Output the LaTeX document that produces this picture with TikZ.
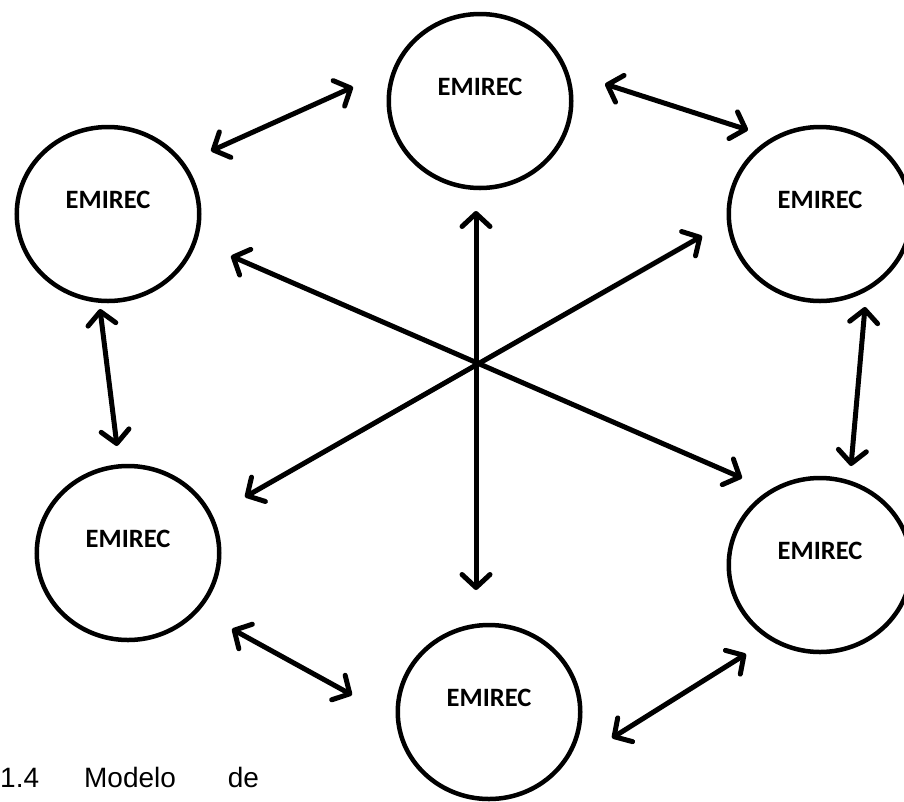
\documentclass[tikz,border=0pt]{standalone}
\usepackage{fontspec}
\setmainfont{Liberation Sans}
\newfontfamily\emirecfont{Carlito}
\usetikzlibrary{arrows.meta,shapes.geometric}
\begin{document}
\begin{tikzpicture}[x=1pt,y=-1pt,
  emirec/.style={ellipse, draw, line width=4.5pt, minimum width=182.5pt, minimum height=174pt,
    inner sep=0pt, font=\emirecfont\bfseries\fontsize{26.5}{31}\selectfont, text height=10pt, text depth=22pt},
  link/.style={line width=5pt, line cap=round,
    {Straight Barb[length=13pt,width=28pt,line cap=round,line join=round]}-{Straight Barb[length=13pt,width=28pt,line cap=round,line join=round]}}]
\useasboundingbox (0,0) rectangle (904,801);
% circles
\node[emirec] (t)  at (480,101) {EMIREC};
\node[emirec] (tl) at (108,214) {EMIREC};
\node[emirec] (tr) at (820,214) {EMIREC};
\node[emirec] (bl) at (128,553) {EMIREC};
\node[emirec] (br) at (820,565) {EMIREC};
\node[emirec] (b)  at (489,712) {EMIREC};
% arrow ends
\coordinate (a1s) at (211,151); \coordinate (a1e) at (353,87);
\coordinate (a2s) at (605,84);  \coordinate (a2e) at (748,130);
\coordinate (a3s) at (100,309); \coordinate (a3e) at (117,446);
\coordinate (a4s) at (865,307); \coordinate (a4e) at (851,466);
\coordinate (a5s) at (232,629); \coordinate (a5e) at (352,695);
\coordinate (a6s) at (612,738); \coordinate (a6e) at (746,654);
\coordinate (v1) at (476,211);  \coordinate (v2) at (476,590);
\coordinate (d1s) at (231,256); \coordinate (d1e) at (742,478);
\coordinate (d2s) at (702,236); \coordinate (d2e) at (245,497);
\draw[link] (a1s) -- (a1e);
\draw[link] (a2s) -- (a2e);
\draw[link] (a3s) -- (a3e);
\draw[link] (a4s) -- (a4e);
\draw[link] (a5s) -- (a5e);
\draw[link] (a6s) -- (a6e);
\draw[link] (v1) -- (v2);
\draw[link] (d1s) -- (d1e);
\draw[link] (d2s) -- (d2e);
% caption fragment
\node[anchor=base west, inner sep=0pt, font=\fontsize{28}{32}\selectfont] (cap) at (0,787) {1.4\hspace{45pt}Modelo\hspace{52pt}de};
\end{tikzpicture}
\end{document}
